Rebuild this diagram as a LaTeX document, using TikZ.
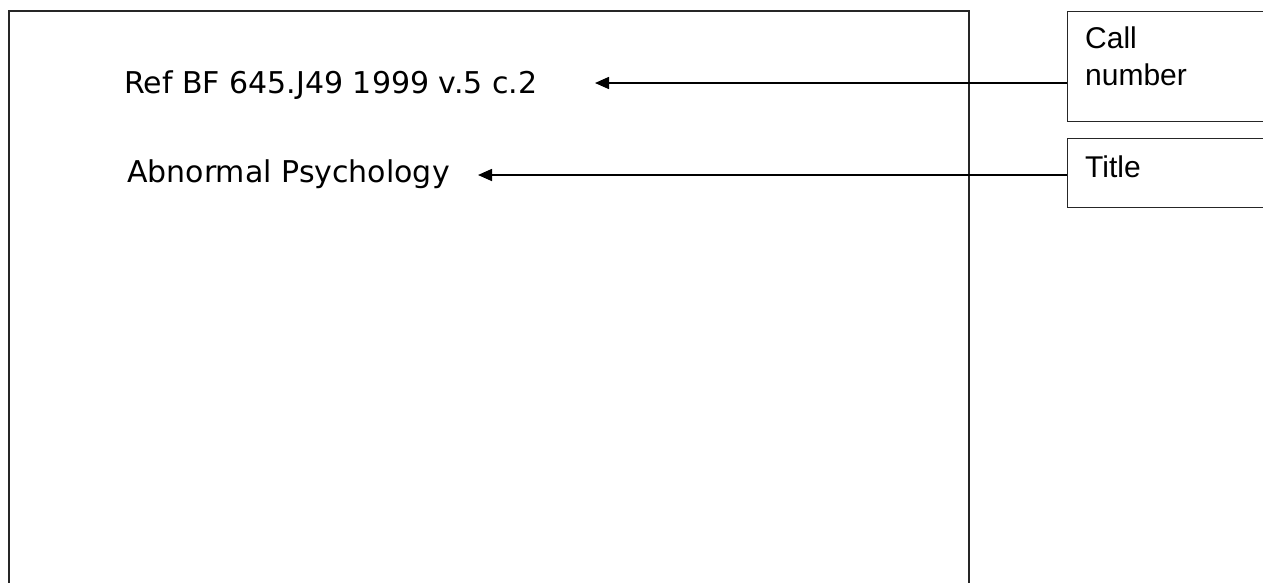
\documentclass[tikz,border=0pt]{standalone}
\usepackage{fontspec}
\setmainfont{Liberation Sans}
\newfontfamily\cardfont{DejaVu Sans}
\usetikzlibrary{arrows.meta}
\tikzset{
  cardline/.style={line width=1.1pt, draw=black!85},
  labelbox/.style={draw=black!85, line width=1.1pt, rectangle, anchor=north west, inner sep=0pt},
  cardtext/.style={anchor=base west, inner sep=0pt, font=\cardfont\fontsize{30}{34}\selectfont},
  labeltext/.style={anchor=base west, inner sep=0pt, align=left, font=\fontsize{30}{37}\selectfont},
  pointer/.style={line width=1.6pt, -{Triangle[length=14pt,width=12pt]}}
}
\begin{document}
\begin{tikzpicture}[x=1pt,y=-1pt]
\useasboundingbox (0,0) rectangle (1263,582);
\fill[white] (0,0) rectangle (1263,582);
% the card
\draw[cardline] (9,590) -- (9,11) -- (969,11) -- (969,590);
% label boxes
\node[labelbox, minimum width=210pt, minimum height=110pt] (callbox) at (1067,11) {};
\node[labelbox, minimum width=210pt, minimum height=69pt] (titlebox) at (1067,138) {};
\node[labeltext] (calltext) at (1085,85) {Call\\number};
\node[labeltext] (titletext) at (1085,177) {Title};
% card texts
\node[cardtext] (callnum) at (124,93) {Ref BF 645.J49 1999 v.5 c.2};
\node[cardtext] (title) at (127,182) {Abnormal Psychology};
% arrows
\coordinate (tipA) at (595,83);
\coordinate (tipB) at (478,175);
\draw[pointer] (callbox.west |- tipA) -- (tipA);
\draw[pointer] (titlebox.west |- tipB) -- (tipB);
\end{tikzpicture}
\end{document}
